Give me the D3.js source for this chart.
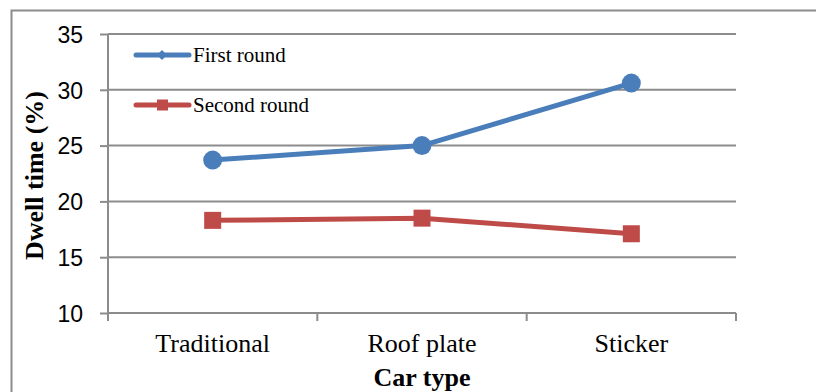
<!DOCTYPE html>
<html><head><meta charset="utf-8">
<script src="https://cdn.jsdelivr.net/npm/d3@7"></script>
<style>body{margin:0;background:#fff}svg{display:block}</style>
</head><body>
<script>
const categories = ["Traditional", "Roof plate", "Sticker"];
const firstRound = [23.7, 25.0, 30.6];
const secondRound = [18.3, 18.5, 17.1];
const yTicks = [10, 15, 20, 25, 30, 35];
const seriesNames = ["First round", "Second round"];

const W = 816, H = 392;
const serif = "'Liberation Serif', 'Times New Roman', serif";
const sans = "'Liberation Sans', Arial, sans-serif";
const svg = d3.select("body").append("svg").attr("width", W).attr("height", H);
svg.append("rect").attr("x", 11.5).attr("y", 10.5).attr("width", 830).attr("height", 400)
  .attr("fill", "none").attr("stroke", "#8c8c8c").attr("stroke-width", 2);

const pLeft = 108, pRight = 736, pTop = 34, pBottom = 313;
const x = d3.scaleBand().domain(categories).range([pLeft, pRight]);
const y = d3.scaleLinear().domain([10, 35]).range([pBottom, pTop]);

// gridlines
svg.append("g").selectAll("line").data(yTicks.filter(d => d !== 10)).join("line")
  .attr("x1", pLeft).attr("x2", pRight).attr("y1", d => y(d)).attr("y2", d => y(d))
  .attr("stroke", "#8c8c8c").attr("stroke-width", 2);

// y axis
const ya = svg.append("g").attr("transform", `translate(${pLeft},0)`)
  .call(d3.axisLeft(y).tickValues(yTicks).tickSize(8).tickPadding(17));
ya.select(".domain").attr("stroke", "#8c8c8c").attr("stroke-width", 2).attr("d", `M0,${pTop}V${pBottom}`);
ya.selectAll(".tick line").attr("stroke", "#8c8c8c").attr("stroke-width", 2);
ya.selectAll("text").attr("font-family", sans).attr("font-size", 23).attr("fill", "#000").attr("dy", "0.36em");

// x axis
const xa = svg.append("g").attr("transform", `translate(0,${pBottom})`)
  .call(d3.axisBottom(x).tickSize(0).tickPadding(21));
xa.select(".domain").attr("stroke", "#8c8c8c").attr("stroke-width", 2).attr("d", `M${pLeft},0H${pRight}`);
xa.selectAll(".tick line").remove();
xa.selectAll("text").attr("font-family", serif).attr("font-size", 26).attr("fill", "#000");
const bounds = [pLeft, ...categories.map(c => x(c) + x.bandwidth())];
xa.append("g").selectAll("line").data(bounds).join("line")
  .attr("x1", d => d).attr("x2", d => d).attr("y1", 0).attr("y2", 8)
  .attr("stroke", "#8c8c8c").attr("stroke-width", 2);

const cx = c => x(c) + x.bandwidth() / 2;
const line = d3.line().x((d, i) => cx(categories[i])).y(d => y(d));

svg.append("path").datum(firstRound).attr("d", line).attr("fill", "none")
  .attr("stroke", "#4a7ebb").attr("stroke-width", 5).attr("stroke-linejoin", "round");
svg.append("g").selectAll("circle").data(firstRound).join("circle")
  .attr("cx", (d, i) => cx(categories[i])).attr("cy", d => y(d)).attr("r", 9.5).attr("fill", "#4a7ebb");

svg.append("path").datum(secondRound).attr("d", line).attr("fill", "none")
  .attr("stroke", "#be4b48").attr("stroke-width", 5).attr("stroke-linejoin", "round");
svg.append("g").selectAll("rect").data(secondRound).join("rect")
  .attr("x", (d, i) => cx(categories[i]) - 8.5).attr("y", d => y(d) - 8.5)
  .attr("width", 17).attr("height", 17).attr("fill", "#be4b48");

// legend
const lg = svg.append("g");
[[55, "#4a7ebb", "diamond"], [105, "#be4b48", "square"]].forEach(([ly, col, shape], i) => {
  lg.append("line").attr("x1", 136).attr("x2", 189).attr("y1", ly).attr("y2", ly)
    .attr("stroke", col).attr("stroke-width", 5).attr("stroke-linecap", "round");
  if (shape === "diamond") {
    lg.append("path").attr("d", `M162,${ly-5}L167,${ly}L162,${ly+5}L157,${ly}Z`).attr("fill", col);
  } else {
    lg.append("rect").attr("x", 157).attr("y", ly - 5.5).attr("width", 11).attr("height", 11).attr("fill", col);
  }
  lg.append("text").attr("x", 193).attr("y", ly).attr("dy", "0.35em")
    .attr("font-family", serif).attr("font-size", 21)
    .text(seriesNames[i]);
});

// axis titles
svg.append("text").attr("transform", `translate(43,${(pTop+pBottom)/2 + 2}) rotate(-90)`)
  .attr("text-anchor", "middle").attr("font-family", serif)
  .attr("font-weight", "bold").attr("font-size", 26).text("Dwell time (%)");
svg.append("text").attr("x", cx(categories[1])).attr("y", 386).attr("text-anchor", "middle")
  .attr("font-family", serif)
  .attr("font-weight", "bold").attr("font-size", 26).text("Car type");
</script>
</body></html>
